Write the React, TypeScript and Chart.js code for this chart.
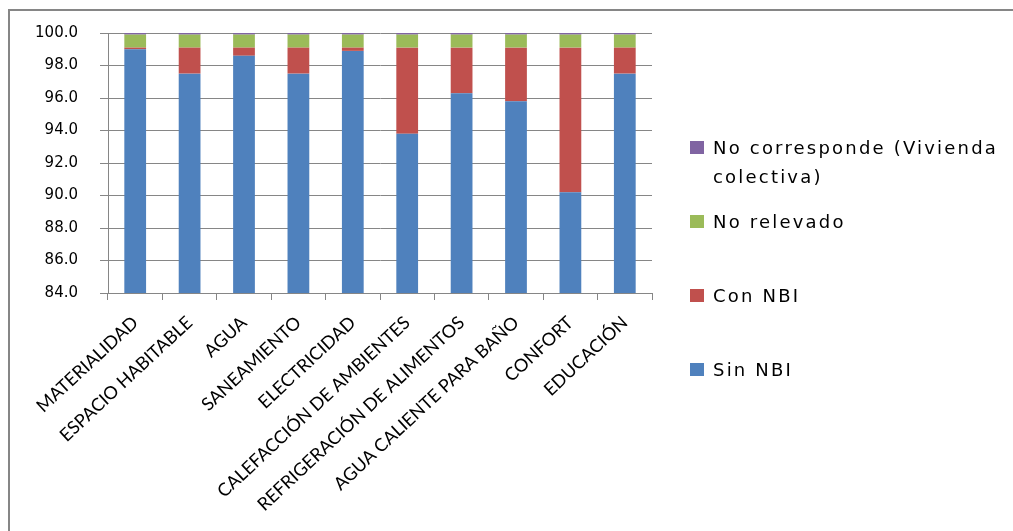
import React, { useEffect, useRef } from "react";
import { Chart, registerables } from "chart.js";

Chart.register(...registerables);

const categories = [
  "MATERIALIDAD",
  "ESPACIO HABITABLE",
  "AGUA",
  "SANEAMIENTO",
  "ELECTRICIDAD",
  "CALEFACCIÓN DE AMBIENTES",
  "REFRIGERACIÓN DE ALIMENTOS",
  "AGUA CALIENTE PARA BAÑO",
  "CONFORT",
  "EDUCACIÓN",
];

const sinNBI = [99.0, 97.5, 98.6, 97.5, 98.9, 93.8, 96.3, 95.8, 90.2, 97.5];
const conNBI = [0.1, 1.6, 0.5, 1.6, 0.2, 5.3, 2.8, 3.3, 8.9, 1.6];
const noRelevado = [0.8, 0.8, 0.8, 0.8, 0.8, 0.8, 0.8, 0.8, 0.8, 0.8];
const noCorresponde = [0.1, 0.1, 0.1, 0.1, 0.1, 0.1, 0.1, 0.1, 0.1, 0.1];

const yMin = 84;
const yMax = 100;
const yStep = 2;

const COLORS = {
  sin: "#4F81BD",
  con: "#C0504D",
  noRel: "#9BBB59",
  noCor: "#8064A2",
};

const legendItems = [
  { lines: ["No corresponde (Vivienda", "colectiva)"], color: COLORS.noCor, y: 141 },
  { lines: ["No relevado"], color: COLORS.noRel, y: 215 },
  { lines: ["Con NBI"], color: COLORS.con, y: 289 },
  { lines: ["Sin NBI"], color: COLORS.sin, y: 363 },
];

const framePlugin = {
  id: "frame",
  beforeDraw(chart: any) {
    const ctx = chart.ctx as CanvasRenderingContext2D;
    ctx.save();
    ctx.fillStyle = "#ffffff";
    ctx.fillRect(0, 0, chart.width, chart.height);
    ctx.fillStyle = "#868686";
    ctx.fillRect(8, 9, 2, chart.height - 9);
    ctx.fillRect(8, 9, chart.width - 8, 2);
    ctx.restore();
  },
};

const legendPlugin = {
  id: "customLegend",
  afterDraw(chart: any) {
    const ctx = chart.ctx as CanvasRenderingContext2D;
    ctx.save();
    ctx.font = "18px 'DejaVu Sans'";
    (ctx as any).letterSpacing = "2.2px";
    ctx.textBaseline = "alphabetic";
    ctx.textAlign = "left";
    legendItems.forEach((it) => {
      ctx.fillStyle = it.color;
      ctx.fillRect(690, it.y, 14, 13);
      ctx.fillStyle = "#000";
      it.lines.forEach((ln, i) => {
        ctx.fillText(ln, 713, it.y + 13 + i * 29);
      });
    });
    ctx.restore();
  },
};

export default function App() {
  const ref = useRef<HTMLCanvasElement | null>(null);

  useEffect(() => {
    if (!ref.current) return;
    const chart = new Chart(ref.current, {
      type: "bar",
      data: {
        labels: categories,
        datasets: [
          { label: "Sin NBI", data: sinNBI, backgroundColor: COLORS.sin },
          { label: "Con NBI", data: conNBI, backgroundColor: COLORS.con },
          { label: "No relevado", data: noRelevado, backgroundColor: COLORS.noRel },
          { label: "No corresponde (Vivienda colectiva)", data: noCorresponde, backgroundColor: COLORS.noCor },
        ],
      },
      options: {
        responsive: false,
        animation: false,
        layout: { padding: { left: 0, right: 361, top: 33, bottom: 0 } },
        datasets: {
          bar: { categoryPercentage: 1, barPercentage: 0.4 },
        },
        plugins: {
          legend: { display: false },
          tooltip: { enabled: false },
          title: { display: false },
        },
        scales: {
          x: {
            stacked: true,
            grid: {
              display: true,
              drawOnChartArea: false,
              drawTicks: true,
              tickLength: 7,
              color: "#868686",
              offset: true,
            },
            border: { display: true, color: "#868686", width: 1 },
            ticks: {
              autoSkip: false,
              maxRotation: 43,
              minRotation: 43,
              padding: 12,
              color: "#000",
              font: { family: "Lato", size: 18 },
            },
            afterFit(scale: any) {
              scale.height = 238;
            },
          },
          y: {
            stacked: true,
            min: yMin,
            max: yMax,
            grid: {
              color: "#868686",
              drawTicks: true,
              tickLength: 8,
            },
            border: { display: true, color: "#868686", width: 1 },
            ticks: {
              stepSize: yStep,
              padding: 22,
              color: "#000",
              font: { family: "DejaVu Sans", size: 15 },
              callback: (v: any) => Number(v).toFixed(1),
            },
            afterFit(scale: any) {
              scale.width = 108;
            },
          },
        },
      },
      plugins: [framePlugin, legendPlugin],
    });
    return () => chart.destroy();
  }, []);

  return (
    <div style={{ position: "absolute", left: 0, top: 0, width: 1013, height: 531, background: "#fff", overflow: "hidden" }}>
      <canvas ref={ref} width={1013} height={531} style={{ display: "block", width: 1013, height: 531 }} />
    </div>
  );
}
